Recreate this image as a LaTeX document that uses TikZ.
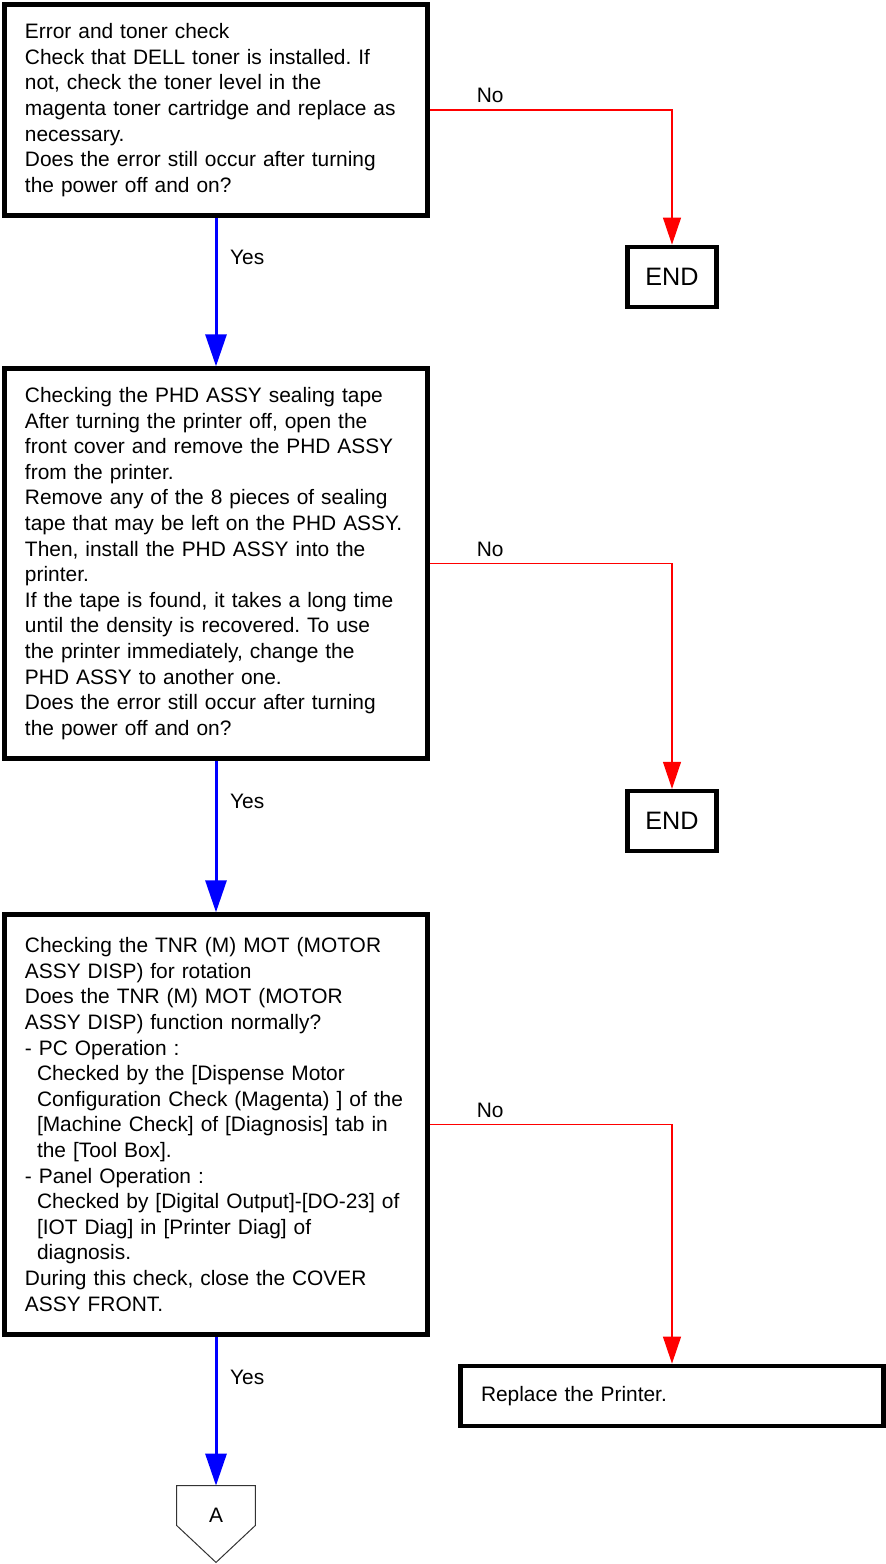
\documentclass[tikz,border=0pt]{standalone}
\usepackage{fontspec}
\setmainfont{Liberation Sans}
\frenchspacing
\usetikzlibrary{arrows.meta}

\begin{document}
\begin{tikzpicture}[x=0.5pt, y=-0.5pt,
    every node/.style={font=\fontsize{10.45}{12.8}\selectfont},
    check/.style={draw, line width=2.2pt, align=left, text width=191pt,
                  inner xsep=10.2pt, inner ysep=0pt, minimum width=211.4pt},
    endbox/.style={draw, line width=2.2pt, minimum width=44.5pt,
                   minimum height=30pt, inner sep=0pt,
                   font=\fontsize{12.6}{14}\selectfont},
    conn/.style={minimum width=39pt, minimum height=19.5pt, inner sep=0pt,
                 text height=17.2pt, text depth=0pt},
    yes/.style={blue, line width=1.5pt, -{Triangle[length=16pt, width=10.5pt]}},
    no/.style={red, line width=0.6pt, -{Triangle[length=13.5pt, width=9pt]}},
    lbl/.style={pos=0.27, right=3pt, text=black},
    nolbl/.style={pos=0.125, above, text=black}]
  \useasboundingbox (0,0) rectangle (885,1564);
  \node[check, minimum height=105.4pt] (tonerchk) at (216,110)
    {Error and toner check\\
     Check that DELL toner is installed. If\\
     not, check the toner level in the\\
     magenta toner cartridge and replace as\\
     necessary.\\
     Does the error still occur after turning\\
     the power off and on?};
  \node[endbox] (end1) at (672,276.8) {END};
  \node[check, minimum height=195pt] (tapechk) at (216,563.5)
    {Checking the PHD ASSY sealing tape\\
     After turning the printer off, open the\\
     front cover and remove the PHD ASSY\\
     from the printer.\\
     Remove any of the 8 pieces of sealing\\
     tape that may be left on the PHD ASSY.\\
     Then, install the PHD ASSY into the\\
     printer.\\
     If the tape is found, it takes a long time\\
     until the density is recovered. To use\\
     the printer immediately, change the\\
     PHD ASSY to another one.\\
     Does the error still occur after turning\\
     the power off and on?};
  \node[endbox] (end2) at (672,821) {END};
  \node[check, minimum height=210pt] (motorchk) at (216,1124.5)
    {Checking the TNR (M) MOT (MOTOR\\
     ASSY DISP) for rotation\\
     Does the TNR (M) MOT (MOTOR\\
     ASSY DISP) function normally?\\
     - PC Operation :\\
     \hspace*{6pt}Checked by the [Dispense Motor\\
     \hspace*{6pt}Configuration Check (Magenta) ] of the\\
     \hspace*{6pt}[Machine Check] of [Diagnosis] tab in\\
     \hspace*{6pt}the [Tool Box].\\
     - Panel Operation :\\
     \hspace*{6pt}Checked by [Digital Output]-[DO-23] of\\
     \hspace*{6pt}[IOT Diag] in [Printer Diag] of\\
     \hspace*{6pt}diagnosis.\\
     During this check, close the COVER\\
     ASSY FRONT.};
  \node[check, minimum height=30pt] (replace) at (672,1395.8) {Replace the Printer.};
  \node[conn] (conA) at (216,1505.5) {A};
  \draw[line width=0.5pt, black!80] (conA.north west) -- (conA.north east)
    -- (conA.south east) -- ([yshift=-18.5pt]conA.south) -- (conA.south west) -- cycle;
  \draw[yes] (tonerchk) -- (tapechk) node[lbl]{Yes};
  \draw[yes] (tapechk) -- (motorchk) node[lbl]{Yes};
  \draw[yes] (motorchk) -- (conA) node[lbl]{Yes};
  \draw[no] (tonerchk) -| (end1) node[nolbl]{No};
  \draw[no] (tapechk) -| (end2) node[nolbl]{No};
  \draw[no] (motorchk) -| (replace) node[nolbl]{No};
\end{tikzpicture}
\end{document}
